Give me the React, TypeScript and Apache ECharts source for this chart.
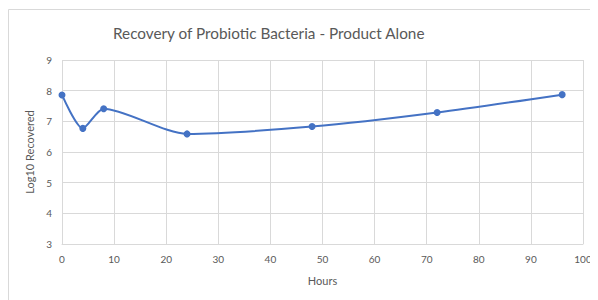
import React, { useEffect, useRef } from "react";
import * as echarts from "echarts";

const hours = [0, 4, 8, 24, 48, 72, 96];
const log10Recovered = [7.86, 6.77, 7.41, 6.59, 6.83, 7.29, 7.87];
const titleText = "Recovery of Probiotic Bacteria - Product Alone";
const xName = "Hours";
const yName = "Log10 Recovered";

export default function App() {
  const ref = useRef<HTMLDivElement>(null);
  useEffect(() => {
    if (!ref.current) return;
    const chart = echarts.init(ref.current, undefined, { renderer: "svg" });
    const font = "Lato";
    chart.setOption({
      animation: false,
      backgroundColor: "#ffffff",
      textStyle: { fontFamily: font },
      graphic: [
        {
          type: "rect",
          shape: { x: 0.5, y: 1.5, width: 620, height: 295 },
          style: { fill: "none", stroke: "#d9d9d9", lineWidth: 1 },
          silent: true,
        },
      ],
      title: {
        text: titleText,
        left: 100,
        top: 12,
        textStyle: { fontFamily: font, fontSize: 15.3, fontWeight: "normal", color: "#595959" },
      },
      grid: { left: 54, right: 23, top: 52, bottom: 64 },
      xAxis: {
        type: "value",
        min: 0,
        max: 100,
        interval: 10,
        name: xName,
        nameLocation: "middle",
        nameGap: 31,
        nameTextStyle: { fontFamily: font, fontSize: 11, color: "#595959" },
        axisLine: { show: true, lineStyle: { color: "#d9d9d9" } },
        axisTick: { show: false },
        axisLabel: { fontFamily: font, fontSize: 10, color: "#595959", margin: 10 },
        splitLine: { show: true, lineStyle: { color: "#d9d9d9" } },
      },
      yAxis: {
        type: "value",
        min: 3,
        max: 9,
        interval: 1,
        name: yName,
        nameLocation: "middle",
        nameGap: 23,
        nameRotate: 90,
        nameTextStyle: { fontFamily: font, fontSize: 11, color: "#595959" },
        axisLine: { show: false },
        axisTick: { show: false },
        axisLabel: { fontFamily: font, fontSize: 10, color: "#595959", margin: 10 },
        splitLine: { show: true, lineStyle: { color: "#d9d9d9" } },
      },
      series: [
        {
          type: "line",
          data: hours.map((h, i) => [h, log10Recovered[i]]),
          smooth: 0.25,
          symbol: "circle",
          symbolSize: 7,
          lineStyle: { color: "#4472C4", width: 2 },
          itemStyle: { color: "#4472C4" },
        },
      ],
    });
    return () => chart.dispose();
  }, []);
  return <div ref={ref} style={{ width: 598, height: 300 }} />;
}
